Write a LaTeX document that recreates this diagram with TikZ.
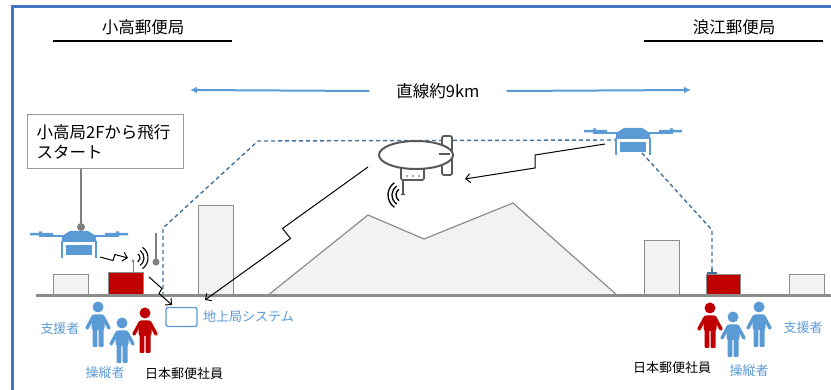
\documentclass[tikz,border=0pt]{standalone}
\usepackage{fontspec}
\usepackage{xcolor}
\usepackage{tikz}
\usetikzlibrary{calc,arrows.meta}
\newfontfamily\jp{Noto Sans CJK JP}
\definecolor{frameblue}{HTML}{4472C4}
\definecolor{skyblue}{HTML}{5B9BD5}
\definecolor{linkblue}{HTML}{41719C}
\definecolor{postred}{HTML}{C00000}
\definecolor{bldgfill}{HTML}{F2F2F2}
\definecolor{bldgline}{HTML}{8C8C8C}
\definecolor{shipgrey}{HTML}{595959}
\tikzset{
drone/.pic={
    \draw[skyblue, line width=2.5pt] (-40,0) -- (40,0);
    \fill[skyblue] (-49,-3) rectangle (-26,-0.5) (26,-3) rectangle (49,-0.5);
    \fill[skyblue] (-40,-4.5) rectangle (-37,1) (37,-4.5) rectangle (40,1);
    \fill[skyblue] (-9,-5) -- (9,-5) -- (17,0) -- (17,6) -- (-17,6) -- (-17,0) -- cycle;
    \draw[skyblue, line width=2.5pt] (-17,5) -- (-17,22) (17,5) -- (17,22);
    \fill[skyblue] (-13,9) rectangle (13,19);
  },
person/.pic={
    \fill (0,0) circle (5.5);
    \fill[rounded corners=2.5pt] (-6.5,7.5) rectangle (6.5,23);
    \fill[rounded corners=1pt] (-5.5,20) rectangle (-0.7,40) (0.7,20) rectangle (5.5,40);
    \draw[line width=3.5pt, line cap=round] (-5,10) -- (-11,21) (5,10) -- (11,21);
  },
blimp/.pic={
    \filldraw[fill=white, draw=shipgrey, line width=1.8pt, rounded corners=2pt]
        (26,-19) rectangle (36,20);
    \draw[shipgrey, line width=1.6pt, rounded corners=1.5pt] (-15,10) rectangle (8,25);
    \fill[shipgrey] (-9,21) circle (0.9) (-3,21) circle (0.9) (3,21) circle (0.9);
    \filldraw[fill=white, draw=shipgrey, line width=2pt] (0,0) ellipse (37 and 14);
    \draw[shipgrey, line width=1.6pt] (23,-1) -- (34,-1);
    \draw[shipgrey, line width=1.3pt] (-13,25) -- (-13,38);
    \filldraw[shipgrey] (-15,40) -- (-11,40) -- (-13,37) -- cycle;
    \foreach \r in {7,11,15}
      \draw[black, line width=1.3pt] (-13,40) ++(125:\r) arc (125:235:\r);
  }
}

\begin{document}
\begin{tikzpicture}[x=1pt, y=-1pt,
 bldg/.style={draw=bldgline, fill=bldgfill, line width=1.2pt,
        anchor=south west, inner sep=0pt},
 redbox/.style={bldg, fill=postred},
 title/.style={font={\jp\fontsize{16.5}{20}\selectfont}, inner sep=0pt},
 lbl/.style={font={\jp\fontsize{13}{15}\selectfont}, text=skyblue, inner sep=0pt},
 link/.style={linkblue, line width=1.4pt, dash pattern=on 4pt off 3pt},
 span/.style={skyblue, line width=2pt, -{Latex[length=7pt,width=7pt]}},
 sig/.style={black, line width=1pt, -{Straight Barb[length=4.5pt,width=9pt]}},
 zap/.style={to path={-- ($(\tikztostart)!.5!(\tikztotarget)-(#1)$)
                 -- ($(\tikztostart)!.5!(\tikztotarget)+(#1)$)
                 -- (\tikztotarget)}},
 pole/.style={draw=gray, line width=1.2pt}
  ]
\useasboundingbox (0,0) rectangle (831,390);

% frame and headings
\draw[frameblue, line width=3pt] (12,392) -- (12,7) -- (833,7);
\node[title] (odaka) at (143,27) {小高郵便局};
\node[title] (namie) at (734,27) {浪江郵便局};
\draw[line width=2.2pt] (53,41) -- (232,41);
\draw[line width=2.2pt] (644,41) -- (823,41);

\node[title, inner xsep=27pt] (dist) at (438,91) {直線約9km};
\coordinate (spanL) at (190,90);
\coordinate (spanR) at (691,90);
\draw[span] (dist.west) -- (spanL);
\draw[span] (dist.east) -- (spanR);

% flight route
\coordinate (droneL) at (79,236);
\coordinate (droneR) at (633,133);
\coordinate (blimp) at (416,155);
\coordinate (gndL) at (163,296);
\coordinate (tickR) at (712,273);
\draw[link] (gndL) -- ++(0,-68) -- (258,141) -- ($(droneR)+(-18,7)$);
\draw[link] ($(droneR)+(9,20)$) -- (712,230) -- (tickR);

% terrain
\filldraw[draw=bldgline, fill=bldgfill, line width=1.2pt]
    (267,296) -- (368,215) -- (424,239) -- (513,203) -- (618,296) -- cycle;
\node[bldg, minimum width=35pt, minimum height=21pt] (shedL) at (53,296) {};
\node[redbox, minimum width=35pt, minimum height=23pt] (boxL) at (108,296) {};
\node[bldg, minimum width=35pt, minimum height=90pt] (towerL) at (198,296) {};
\node[bldg, minimum width=35pt, minimum height=55pt] (towerR) at (644,296) {};
\node[redbox, minimum width=34pt, minimum height=21pt] (boxR) at (706,296) {};
\node[bldg, minimum width=35pt, minimum height=21pt] (shedR) at (789,296) {};
\draw[bldgline, line width=3pt] (36,296) -- (833,296);
\draw[linkblue, line width=1.4pt] (707,273) -- (717,273) (tickR) -- ++(0,-4);

% start point
\node[draw=gray!80, line width=1.2pt, anchor=north west, text width=138pt,
      inner xsep=9pt, minimum height=54pt, align=left,
      font={\jp\fontsize{16.5}{20}\selectfont}] (start) at (27,114)
      {小高局2Fから飛行\\スタート};
\coordinate (dotL) at (81,227);
\draw[pole] (start.south west -| dotL) -- (dotL);
\fill[gray] (dotL) circle (4);

\coordinate (dotP) at (156,262);
\draw[pole] (156,233) -- (dotP);
\fill[gray] (dotP) circle (3.5);

% antenna on the red box
\draw[gray, line width=1pt] (133,262) -- (boxL.north -| 133,0);
\fill[gray] (133,261) circle (1.5);
\foreach \r in {5,9,13}
  \draw[black, line width=1.1pt] (135,258) ++(-55:\r) arc (-55:55:\r);

\pic (shipA) at (blimp) {blimp};
\pic (uavL) at (droneL) {drone};
\pic (uavR) at (droneR) {drone};

% ground station
\node[draw=skyblue, line width=1.3pt, rounded corners=2pt, minimum width=31pt,
      minimum height=19pt, inner sep=0pt] (gs) at (181.5,317) {};
\node[lbl, anchor=west] (gslbl) at (203,317) {地上局システム};

% radio links
\coordinate (sigL) at (100,257);
\coordinate (sigLend) at (128,258);
\coordinate (sigB) at (149,277);
\coordinate (gsIn) at (172,305);
\coordinate (shipOut) at (368,167);
\coordinate (gsIn2) at (205,300);
\coordinate (uavOut) at (605,144);
\coordinate (shipIn) at (465,179);
\draw[sig] (sigL) to[zap={1,-3}] (sigLend);
\draw[sig] (sigB) to[zap={-1.5,2.5}] (gsIn);
\draw[sig] (shipOut) to[zap={4,5}] (gsIn2);
\draw[sig] (uavOut) to[zap={0,6.5}] (shipIn);

% staff
\pic[color=skyblue] (supL) at (98,307) {person};
\pic[color=postred] (staffL) at (145,313) {person};
\pic[color=skyblue] (opL) at (122,323) {person};
\pic[color=postred] (staffR) at (710,308) {person};
\pic[color=skyblue] (supR) at (759,307) {person};
\pic[color=skyblue] (opR) at (733,317) {person};

\node[lbl] (supLlbl) at (60,329) {支援者};
\node[lbl] (opLlbl) at (105,373) {操縦者};
\node[lbl, text=black] (staffLlbl) at (184,374) {日本郵便社員};
\node[lbl] (supRlbl) at (803,328) {支援者};
\node[lbl] (opRlbl) at (749,371) {操縦者};
\node[lbl, text=black] (staffRlbl) at (672,368) {日本郵便社員};
\end{tikzpicture}
\end{document}
